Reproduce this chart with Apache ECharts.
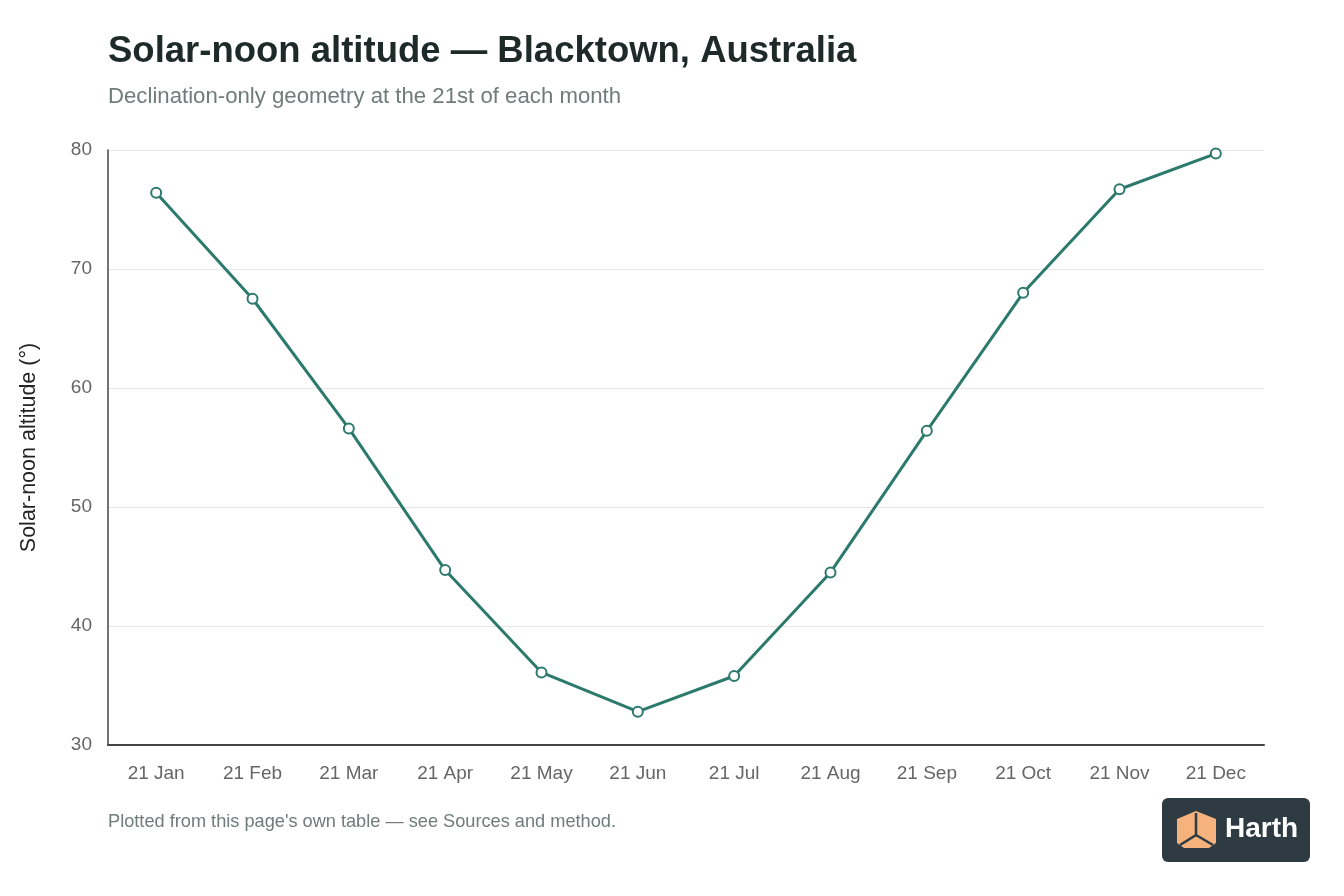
<!DOCTYPE html>
<html>
<head>
  <meta charset="utf-8">
  <script src="https://cdn.jsdelivr.net/npm/echarts@6/dist/echarts.min.js"></script>
  <title>Solar-noon altitude</title>
</head>
<body style="margin: 0; background: #fff;">
  <div id="main" style="width: 1344px; height: 896px;"></div>
  <script>
    // 21st of each month
    var months = ['21 Jan', '21 Feb', '21 Mar', '21 Apr', '21 May', '21 Jun',
                  '21 Jul', '21 Aug', '21 Sep', '21 Oct', '21 Nov', '21 Dec'];
    var altitude = [76.4, 67.5, 56.6, 44.7, 36.1, 32.8, 35.8, 44.5, 56.4, 68.0, 76.7, 79.7];
    var yTicks = [30, 40, 50, 60, 70, 80];

    var font = '"Liberation Sans", Arial, sans-serif';
    var chart = echarts.init(document.getElementById('main'));

    var option = {
      textStyle: { fontFamily: font },
      title: {
        text: 'Solar-noon altitude \u2014 Blacktown, Australia',
        subtext: 'Declination-only geometry at the 21st of each month',
        left: 103,
        top: 28,
        itemGap: 16,
        textStyle: { fontFamily: font, fontSize: 36.5, fontWeight: 'bold', color: '#1e2a27' },
        subtextStyle: { fontFamily: font, fontSize: 22.2, color: '#6f7c79' }
      },
      grid: { left: 108, right: 80, top: 150, bottom: 151 },
      xAxis: {
        type: 'category',
        data: months,
        boundaryGap: true,
        axisLine: { lineStyle: { color: '#444', width: 2 } },
        axisTick: { show: false },
        axisLabel: { color: '#666', fontSize: 19, margin: 19, fontFamily: font }
      },
      yAxis: {
        type: 'value',
        min: yTicks[0],
        max: yTicks[yTicks.length - 1],
        interval: 10,
        name: 'Solar-noon altitude (\u00b0)',
        nameLocation: 'middle',
        nameGap: 68,
        nameTextStyle: { color: '#222', fontSize: 21.5, fontFamily: font },
        axisLine: { show: true, lineStyle: { color: '#444', width: 1.5 } },
        axisTick: { show: false },
        axisLabel: { color: '#666', fontSize: 19, margin: 16, fontFamily: font },
        splitLine: { lineStyle: { color: '#e6e8e8', width: 1 } }
      },
      series: [{
        type: 'line',
        data: altitude,
        symbol: 'circle',
        symbolSize: 10,
        lineStyle: { color: '#2b7a6c', width: 3 },
        itemStyle: { color: '#fff', borderColor: '#2b7a6c', borderWidth: 2 },
        z: 3
      }],
      graphic: [
        {
          type: 'text', left: 108, top: 813,
          style: { text: "Plotted from this page's own table \u2014 see Sources and method.",
                   fill: '#6f7c79', fontSize: 18.2, fontFamily: font }
        },
        {
          type: 'group', left: 1162, top: 798,
          children: [
            { type: 'rect', shape: { x: 0, y: 0, width: 148, height: 64, r: 6 },
              style: { fill: '#2e3b43' } },
            { type: 'polygon',
              shape: { points: [[34, 13], [54, 21], [54, 45], [47, 50], [22, 50], [15, 45], [15, 21]] },
              style: { fill: '#f5b27c' } },
            { type: 'polyline',
              shape: { points: [[34, 15], [34, 37], [18, 47]] },
              style: { stroke: '#2e3b43', lineWidth: 2.5, fill: null } },
            { type: 'line', shape: { x1: 34, y1: 37, x2: 51, y2: 47 },
              style: { stroke: '#2e3b43', lineWidth: 2.5 } },
            { type: 'text', left: 63, top: 17,
              style: { text: 'Harth', fill: '#fff', fontSize: 28, fontWeight: 'bold', fontFamily: font } }
          ]
        }
      ]
    };

    chart.setOption(option);
  </script>
</body>
</html>
